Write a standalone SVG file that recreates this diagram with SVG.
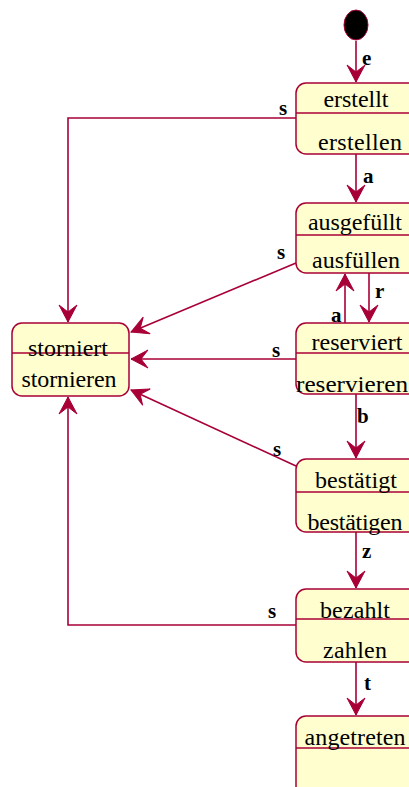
<svg xmlns="http://www.w3.org/2000/svg" width="409" height="787" viewBox="0 0 409 787">
<style>
.box{fill:#FEFECE;stroke:#A80036;stroke-width:1.5}
.sep{stroke:#A80036;stroke-width:1.5}
.t{font-size:24px;fill:#000;text-anchor:middle}
.l{font-size:21px;font-weight:bold;fill:#000}
.c{fill:none;stroke:#A80036;stroke-width:1.6;marker-end:url(#ah)}
</style>
<defs>
<marker id="ah" viewBox="-18 -10 19 20" refX="0" refY="0" markerWidth="19" markerHeight="20" markerUnits="userSpaceOnUse" orient="auto">
<path d="M0,0 L-17,-9 L-10,0 L-17,9 Z" fill="#A80036" stroke="#A80036" stroke-width="1"/>
</marker>
</defs>
<rect width="409" height="787" fill="#fff"/>
<g id="connectors" font-family="Liberation Serif, Times New Roman, serif">
<path class="c" d="M356,41 L356,82"/>
<path class="c" d="M356,154 L356,202"/>
<path class="c" d="M369,273 L369,322"/>
<path class="c" d="M345,323 L345,274"/>
<path class="c" d="M356,394 L356,458"/>
<path class="c" d="M356,532 L356,588"/>
<path class="c" d="M356,662 L356,715"/>
<path class="c" d="M296,118 L68,118 L68,322"/>
<path class="c" d="M296,263 L131,332"/>
<path class="c" d="M296,359 L131,359"/>
<path class="c" d="M296,466 L131,390"/>
<path class="c" d="M296,625 L68,625 L68,397"/>
<text class="l" x="362" y="65">e</text>
<text class="l" x="279" y="115">s</text>
<text class="l" x="363" y="183">a</text>
<text class="l" x="277" y="259">s</text>
<text class="l" x="375" y="298">r</text>
<text class="l" x="331" y="322">a</text>
<text class="l" x="272" y="357">s</text>
<text class="l" x="357" y="423">b</text>
<text class="l" x="273" y="456">s</text>
<text class="l" x="362" y="558">z</text>
<text class="l" x="268" y="618">s</text>
<text class="l" x="364" y="690">t</text>
</g>
<g id="start">
<ellipse cx="356" cy="25" rx="12" ry="15" fill="#000" stroke="#A80036" stroke-width="1"/>
</g>
<g font-family="Liberation Serif, Times New Roman, serif">
<g id="erstellt">
<rect class="box" x="296" y="83" width="125" height="71" rx="10"/>
<line class="sep" x1="296" y1="113" x2="421" y2="113"/>
<text class="t" x="356" y="107" textLength="65" lengthAdjust="spacing">erstellt</text>
<text class="t" x="360" y="150" textLength="84" lengthAdjust="spacing">erstellen</text>
</g>
<g id="ausgefuellt">
<rect class="box" x="296" y="203" width="125" height="70" rx="10"/>
<line class="sep" x1="296" y1="235" x2="421" y2="235"/>
<text class="t" x="355" y="230" textLength="94" lengthAdjust="spacing">ausgefüllt</text>
<text class="t" x="356" y="268" textLength="88" lengthAdjust="spacing">ausfüllen</text>
</g>
<g id="reserviert">
<rect class="box" x="296" y="323" width="125" height="71" rx="10"/>
<line class="sep" x1="296" y1="353" x2="421" y2="353"/>
<text class="t" x="357" y="350" textLength="91" lengthAdjust="spacing">reserviert</text>
<text class="t" x="352" y="392" textLength="112" lengthAdjust="spacingAndGlyphs">reservieren</text>
</g>
<g id="bestaetigt">
<rect class="box" x="296" y="459" width="125" height="73" rx="10"/>
<line class="sep" x1="296" y1="492" x2="421" y2="492"/>
<text class="t" x="356" y="488" textLength="82" lengthAdjust="spacing">bestätigt</text>
<text class="t" x="355" y="530" textLength="95" lengthAdjust="spacing">bestätigen</text>
</g>
<g id="bezahlt">
<rect class="box" x="296" y="589" width="125" height="73" rx="10"/>
<line class="sep" x1="296" y1="619" x2="421" y2="619"/>
<text class="t" x="355" y="618" textLength="70" lengthAdjust="spacing">bezahlt</text>
<text class="t" x="355" y="658" textLength="64" lengthAdjust="spacing">zahlen</text>
</g>
<g id="angetreten">
<rect class="box" x="296" y="716" width="125" height="80" rx="10"/>
<line class="sep" x1="296" y1="748" x2="421" y2="748"/>
<text class="t" x="355" y="745" textLength="101" lengthAdjust="spacing">angetreten</text>
</g>
<g id="storniert">
<rect class="box" x="12" y="323" width="117" height="73" rx="10"/>
<line class="sep" x1="12" y1="353" x2="129" y2="353"/>
<text class="t" x="68" y="356" textLength="80" lengthAdjust="spacing">storniert</text>
<text class="t" x="69" y="387" textLength="95" lengthAdjust="spacing">stornieren</text>
</g>
</g>
</svg>
